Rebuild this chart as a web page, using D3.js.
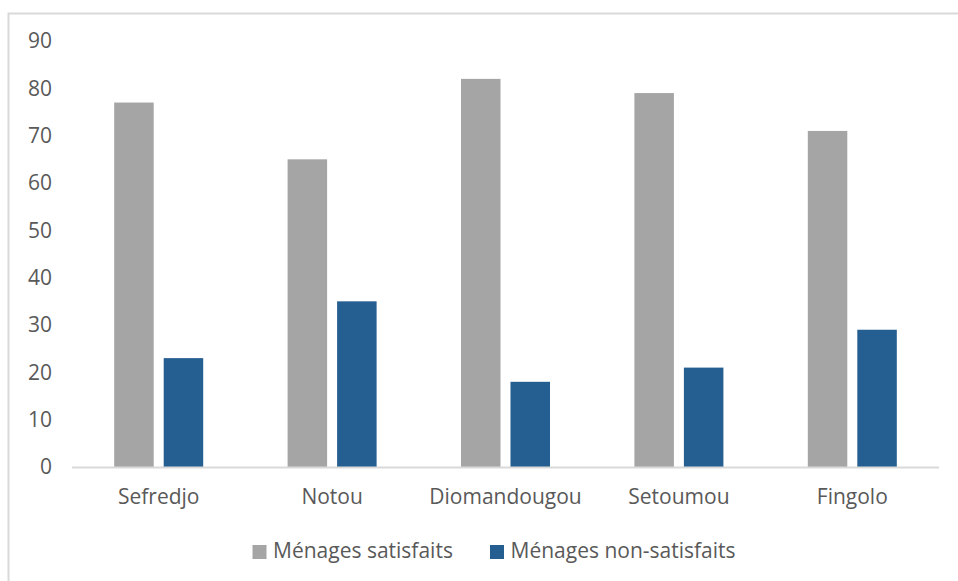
<!DOCTYPE html>
<html><head><meta charset="utf-8">
<script src="https://cdn.jsdelivr.net/npm/d3@7"></script>
<style>body{margin:0;background:#fff}svg{display:block}text{font-family:"Open Sans",sans-serif;fill:#595959}</style>
</head><body>
<svg id="c" width="958" height="581"></svg>
<script>
const categories = ["Sefredjo","Notou","Diomandougou","Setoumou","Fingolo"];
const seriesNames = ["Ménages satisfaits","Ménages non-satisfaits"];
const satisfaits = [77,65,82,79,71];
const nonSatisfaits = [23,35,18,21,29];
const yTicks = [0,10,20,30,40,50,60,70,80,90];
const colors = ["#a5a5a5","#255e91"];

(function(){
const svg = d3.select("#c");
svg.append("rect").attr("x",8.5).attr("y",13.5).attr("width",960).attr("height",600)
  .attr("fill","#fff").attr("stroke","#d9d9d9").attr("stroke-width",2);

const pL = 72, pR = 939, pT = 41, pB = 467;
const x = d3.scaleBand().domain(categories).range([pL,pR]).paddingInner(0).paddingOuter(0);
const y = d3.scaleLinear().domain([0,90]).range([pB,pT]);
const barW = 39.5, gap = 10;
const inner = d3.scaleBand().domain([0,1]).range([0, barW*2+gap]).paddingInner(gap/(barW+gap));

const data = [satisfaits, nonSatisfaits];
const g = svg.append("g");
data.forEach((vals,si)=>{
  g.selectAll(null).data(categories).enter().append("rect")
    .attr("x", (c)=> x(c) + x.bandwidth()/2 - (barW*2+gap)/2 + inner(si))
    .attr("width", inner.bandwidth())
    .attr("y", (c,i)=> y(vals[i]))
    .attr("height", (c,i)=> y(0)-y(vals[i]))
    .attr("fill", colors[si]);
});

svg.append("line").attr("x1",pL).attr("x2",pR).attr("y1",pB+0.5).attr("y2",pB+0.5)
  .attr("stroke","#d9d9d9").attr("stroke-width",2);

const fs = "21px";
const yAxis = d3.axisLeft(y).tickValues(yTicks).tickSize(0).tickPadding(0);
const ya = svg.append("g").attr("transform",`translate(52,0)`).call(yAxis);
ya.select(".domain").remove();
ya.selectAll("text").style("font-size",fs).attr("fill","#595959");
ya.attr("font-family",null).attr("font-size",null);

const xAxis = d3.axisBottom(x).tickSize(0).tickPadding(0);
const xa = svg.append("g").attr("transform",`translate(0,489)`).call(xAxis);
xa.select(".domain").remove();
xa.selectAll("text").style("font-size",fs).attr("fill","#595959");
xa.attr("font-family",null).attr("font-size",null);

const legend = svg.append("g");
const legX = [252.5, 490];
seriesNames.forEach((n,i)=>{
  legend.append("rect").attr("x",legX[i]).attr("y",545).attr("width",14).attr("height",14).attr("fill",colors[i]);
  legend.append("text").attr("x",legX[i]+20.5).attr("y",551).attr("dy","0.35em").style("font-size",fs).text(n);
});
})();
</script>
</body></html>
